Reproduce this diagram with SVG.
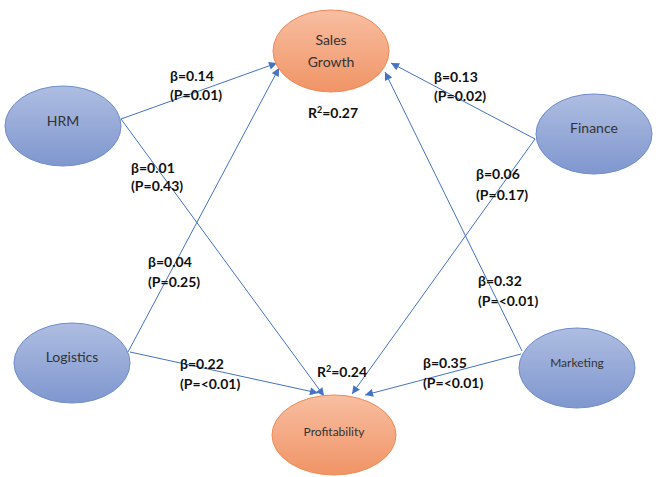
<svg xmlns="http://www.w3.org/2000/svg" width="672" height="477" viewBox="0 0 672 477">
<defs>
<linearGradient id="gb" x1="0" y1="0" x2="0" y2="1"><stop offset="0" stop-color="#aebde1"/><stop offset="1" stop-color="#7f97cf"/></linearGradient>
<linearGradient id="go" x1="0" y1="0" x2="0" y2="1"><stop offset="0" stop-color="#f8bea1"/><stop offset="1" stop-color="#f09466"/></linearGradient>
<marker id="ah" viewBox="0 0 10 10" refX="10" refY="5" markerWidth="9" markerHeight="8" markerUnits="userSpaceOnUse" orient="auto"><path d="M0,0 L10,5 L0,10 z" fill="#4472c4"/></marker>
<style>
.blue{fill:url(#gb);stroke:#6f8ccb;stroke-width:1}
.orange{fill:url(#go);stroke:#ee8a57;stroke-width:1}
.nt{font-family:Lato,"Liberation Sans",sans-serif;font-size:14px;fill:#333;text-anchor:middle}
.ns{font-family:Lato,"Liberation Sans",sans-serif;font-size:12px;fill:#333;text-anchor:middle}
.lb{font-family:Lato,"Liberation Sans",sans-serif;font-size:14px;font-weight:bold;fill:#111}
.c{stroke:#4472c4;stroke-width:1;fill:none;marker-end:url(#ah)}
</style>
</defs>
<rect width="672" height="477" fill="#fff"/>
<g id="connectors">
<line class="c" x1="121" y1="119" x2="277" y2="63"/>
<line class="c" x1="121" y1="119" x2="324" y2="396"/>
<line class="c" x1="128" y1="352" x2="279" y2="68"/>
<line class="c" x1="130" y1="352" x2="318" y2="393"/>
<line class="c" x1="535" y1="139" x2="391" y2="63"/>
<line class="c" x1="535" y1="139" x2="352" y2="394"/>
<line class="c" x1="522" y1="351" x2="385" y2="72"/>
<line class="c" x1="521" y1="354" x2="365" y2="395"/>
</g>
<g id="sales"><ellipse class="orange" cx="331" cy="51" rx="58" ry="41"/><text class="nt" x="331" y="45">Sales</text><text class="nt" x="331" y="67">Growth</text></g>
<g id="hrm"><ellipse class="blue" cx="63" cy="126" rx="58" ry="40"/><text class="nt" x="63" y="126">HRM</text></g>
<g id="finance"><ellipse class="blue" cx="594" cy="134" rx="58" ry="40"/><text class="nt" x="594" y="133">Finance</text></g>
<g id="logistics"><ellipse class="blue" cx="72" cy="363" rx="58" ry="40"/><text class="nt" x="72" y="362">Logistics</text></g>
<g id="marketing"><ellipse class="blue" cx="577" cy="368" rx="58" ry="40"/><text class="ns" x="577" y="367">Marketing</text></g>
<g id="profitability"><ellipse class="orange" cx="334" cy="435" rx="62" ry="40"/><text class="ns" x="334" y="436">Profitability</text></g>
<g id="labels">
<text class="lb" x="170" y="81">β=0.14</text><text class="lb" x="170" y="100">(P=0.01)</text>
<text class="lb" x="131" y="173">β=0.01</text><text class="lb" x="131" y="191">(P=0.43)</text>
<text class="lb" x="308" y="118">R<tspan font-size="9" dy="-5">2</tspan><tspan dy="5">=0.27</tspan></text>
<text class="lb" x="434" y="82">β=0.13</text><text class="lb" x="434" y="101">(P=0.02)</text>
<text class="lb" x="476" y="179">β=0.06</text><text class="lb" x="476" y="200">(P=0.17)</text>
<text class="lb" x="148" y="267">β=0.04</text><text class="lb" x="148" y="287">(P=0.25)</text>
<text class="lb" x="180" y="369">β=0.22</text><text class="lb" x="180" y="389">(P=&lt;0.01)</text>
<text class="lb" x="317" y="377">R<tspan font-size="9" dy="-5">2</tspan><tspan dy="5">=0.24</tspan></text>
<text class="lb" x="478" y="286">β=0.32</text><text class="lb" x="478" y="306">(P=&lt;0.01)</text>
<text class="lb" x="423" y="368">β=0.35</text><text class="lb" x="423" y="388">(P=&lt;0.01)</text>
</g>
</svg>
